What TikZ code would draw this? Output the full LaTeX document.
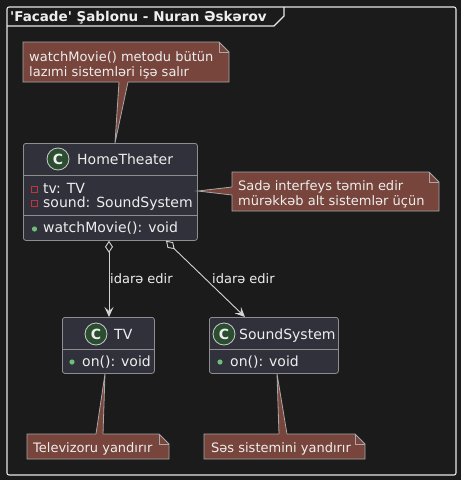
\documentclass[tikz,border=0pt]{standalone}
\usepackage{fontspec}
\setmainfont{DejaVu Sans}
\usetikzlibrary{arrows.meta,calc}
\definecolor{bg}{HTML}{1B1B1B}
\definecolor{framec}{HTML}{E6E6E6}
\definecolor{cls}{HTML}{30313A}
\definecolor{clsb}{HTML}{8E8E8E}
\definecolor{notef}{HTML}{77453B}
\definecolor{noteb}{HTML}{A8A8A8}
\definecolor{cgreen}{HTML}{2C4E30}
\definecolor{txt}{HTML}{EEEEEE}
\definecolor{privc}{HTML}{C0343A}
\definecolor{pubc}{HTML}{6DBE77}
\definecolor{linec}{HTML}{D4D4D4}
\tikzset{
  classbox/.style={draw=clsb, fill=cls, rounded corners=2.5pt, line width=0.8pt, inner sep=0pt, anchor=north west},
  cicon/.style={circle, fill=cgreen, draw=txt!85!black, line width=0.8pt, minimum size=22pt, inner sep=0pt, text=txt, font=\bfseries\fontsize{14}{16}\selectfont},
  ctext/.style={anchor=base west, text=txt, inner sep=0pt, font=\fontsize{14}{16}\selectfont},
  ntext/.style={anchor=base west, text=txt, inner sep=0pt, font=\fontsize{13}{15}\selectfont},
  notebody/.style={fill=notef, draw=noteb, line width=0.8pt},
  noteside/.style={draw=noteb, line width=0.8pt},
  sepline/.style={draw=clsb, line width=0.8pt},
  conn/.style={draw=linec, line width=0.9pt},
  privicon/.style={draw=privc, line width=0.8pt},
  pubicon/.style={fill=pubc},
}
\newcommand\plnote[4]{%
  \filldraw[notebody] (#1,#2) -- (#3-10,#2) -- (#3,#2+10) -- (#3,#4) -- (#1,#4) -- cycle;
  \draw[noteside] (#3-10,#2) -- (#3-10,#2+10) -- (#3,#2+10);
}
\begin{document}
\begin{tikzpicture}[x=1pt,y=-1pt]
\fill[bg] (0,0) rectangle (461,480);
\useasboundingbox (0,0) rectangle (461,480);
% frame
\draw[framec, line width=1.1pt, rounded corners=2pt] (7,7) rectangle (456,475);
\draw[framec, line width=1.1pt] (7,26) -- (274,26) -- (284,16) -- (284,7);
\node[anchor=base west, inner sep=0pt, text=txt, font=\bfseries\fontsize{13.5}{16}\selectfont] (title) at (10,21) {\textquotesingle Facade\textquotesingle{} Şablonu - Nuran Əskərov};

% classes
\node[classbox, minimum width=174pt, minimum height=97pt] (ht) at (23,143) {};
\draw[sepline] (23,175) -- (197,175);
\draw[sepline] (23,215) -- (197,215);
\node[cicon] (htc) at (58,159) {C};
\node[ctext] (htn) at (77,164) {HomeTheater};
\draw[privicon] (31.5,186) rectangle (37.5,192);
\node[ctext] (hta1) at (43,193) {tv: TV};
\draw[privicon] (31.5,200.5) rectangle (37.5,206.5);
\node[ctext] (hta2) at (43,207.5) {sound: SoundSystem};
\fill[pubicon] (34.5,229) circle (2.6pt);
\node[ctext] (htm) at (43,232.5) {watchMovie(): void};

\node[classbox, minimum width=92pt, minimum height=56pt] (tv) at (62,317) {};
\draw[sepline] (62,349) -- (154,349);
\node[cicon] (tvc) at (96,334) {C};
\node[ctext] (tvn) at (114,339) {TV};
\fill[pubicon] (72,362) circle (2.6pt);
\node[ctext] (tvm) at (82,366.5) {on(): void};

\node[classbox, minimum width=129pt, minimum height=56pt] (ss) at (209,317) {};
\draw[sepline] (209,349) -- (338,349);
\node[cicon] (ssc) at (224,334) {C};
\node[ctext] (ssn) at (239,339) {SoundSystem};
\fill[pubicon] (220,362) circle (2.6pt);
\node[ctext] (ssm) at (230,366.5) {on(): void};

% connectors
\draw[conn, {Diamond[open,length=12pt,width=8pt]}-{Stealth[length=10pt,width=9pt,inset=4pt]}] ($(ht.south west)+(86,0)$) -- ($(tv.north west)+(47,0)$);
\draw[conn, {Diamond[open,length=12pt,width=8pt]}-{Stealth[length=10pt,width=9pt,inset=4pt]}] ($(ht.south west)+(143,0)$) -- ($(ss.north west)+(36,0)$);
\node[ntext] (l1) at (110,283) {idarə edir};
\node[ntext] (l2) at (212,283) {idarə edir};

% notes
\plnote{23}{42}{229}{82}
\fill[notef] (119,81) -- (115,143) -- (128,81) -- cycle;
\draw[noteside] (119,82) -- (ht.north -| 115,0) -- (128,82);
\node[ntext] (n1a) at (29,61) {watchMovie() metodu bütün};
\node[ntext] (n1b) at (29,76) {lazımi sistemləri işə salır};

\plnote{232}{172}{439}{211}
\fill[notef] (233,187) -- (197,191) -- (233,195) -- cycle;
\draw[noteside] (232,187) -- (ht.east |- 0,191) -- (232,195);
\node[ntext] (n2a) at (238,190) {Sadə interfeys təmin edir};
\node[ntext] (n2b) at (238,205) {mürəkkəb alt sistemlər üçün};

\plnote{27}{434}{169}{459}
\fill[notef] (96,435) -- (105,373) -- (103,435) -- cycle;
\draw[noteside] (96,434) -- (tv.south -| 105,0) -- (103,434);
\node[ntext] (n3) at (33,452) {Televizoru yandırır};

\plnote{204}{434}{365}{459}
\fill[notef] (279,435) -- (277,373) -- (287,435) -- cycle;
\draw[noteside] (279,434) -- (ss.south -| 277,0) -- (287,434);
\node[ntext] (n4) at (211,452) {Səs sistemini yandırır};
\end{tikzpicture}
\end{document}
